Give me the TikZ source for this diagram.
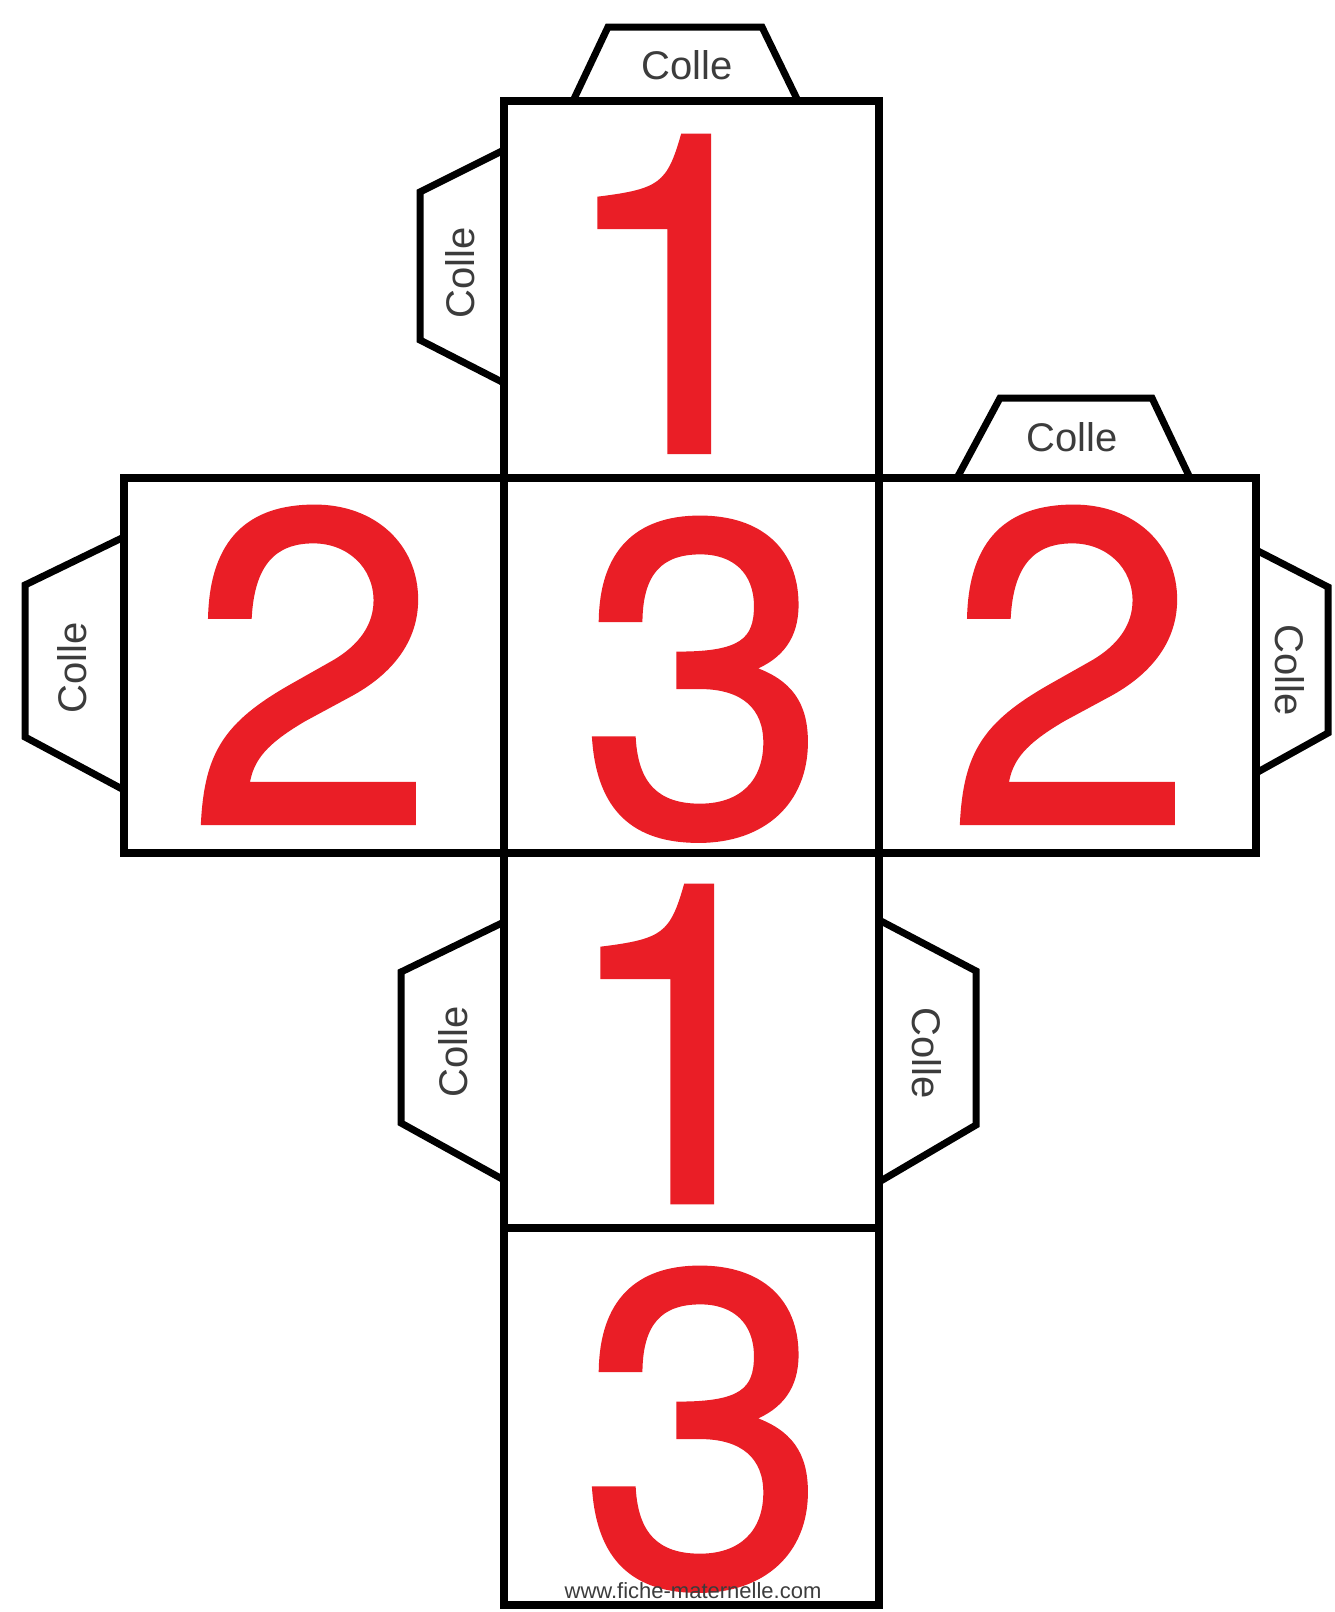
\documentclass[tikz,border=0pt]{standalone}
\usepackage{fontspec}
\setmainfont{Liberation Sans}
\newfontfamily\digitfont[FakeBold=1]{TeX Gyre Heros}
\definecolor{digitred}{RGB}{234,30,38}
\definecolor{gluegray}{RGB}{60,60,60}
\begin{document}
\begin{tikzpicture}[x=1pt,y=-1pt,
  face/.style={draw=black,line width=8.5pt,line join=miter},
  tab/.style={draw=black,line width=7pt,line join=miter,fill=white},
  digit/.style={text=digitred,inner sep=0pt,anchor=base,font=\digitfont\fontsize{446}{446}\selectfont},
  glue/.style={text=gluegray,inner sep=0pt,font=\fontsize{40}{40}\selectfont},
  footer/.style={text=gluegray,inner sep=0pt,font=\fontsize{22}{22}\selectfont}]
\useasboundingbox[fill=white] (0,0) rectangle (1335,1612);
% tabs
\draw[tab] (573,101) -- (608,27) -- (762,27) -- (798,101);
\draw[tab] (504,150) -- (420,192) -- (420,340) -- (504,383);
\draw[tab] (124,537) -- (25,585) -- (25,737) -- (124,790);
\draw[tab] (957,478) -- (1000,398) -- (1152,398) -- (1190,478);
\draw[tab] (1256,550) -- (1328,587) -- (1328,733) -- (1256,773);
\draw[tab] (504,922) -- (401,972) -- (401,1123) -- (504,1180);
\draw[tab] (879,920) -- (976,971) -- (976,1125) -- (879,1182);
% faces
\draw[face] (504,101) rectangle (879,478);
\draw[face] (124,478) rectangle (504,853);
\draw[face] (504,478) rectangle (879,853);
\draw[face] (879,478) rectangle (1256,853);
\draw[face] (504,853) rectangle (879,1228);
\draw[face] (504,1228) rectangle (879,1605);
% digits
\node[digit] (d1) at (678,452) {1};
\node[digit] (d2l) at (312,823) {2};
\node[digit] (d3) at (704,834) {3};
\node[digit] (d2r) at (1071,823) {2};
\node[digit] (d1b) at (681,1202) {1};
\node[digit] (d3b) at (704,1584) {3};
% glue labels
\node[glue] (g1) at (687,65) {Colle};
\node[glue,rotate=90] (g2) at (460,273) {Colle};
\node[glue,rotate=90] (g3) at (72,668) {Colle};
\node[glue] (g4) at (1072,437) {Colle};
\node[glue,rotate=-90] (g5) at (1290,670) {Colle};
\node[glue,rotate=90] (g6) at (453,1052) {Colle};
\node[glue,rotate=-90] (g7) at (927,1053) {Colle};
% footer
\node[footer] (ft) at (693,1591) {www.fiche-maternelle.com};
\end{tikzpicture}
\end{document}
